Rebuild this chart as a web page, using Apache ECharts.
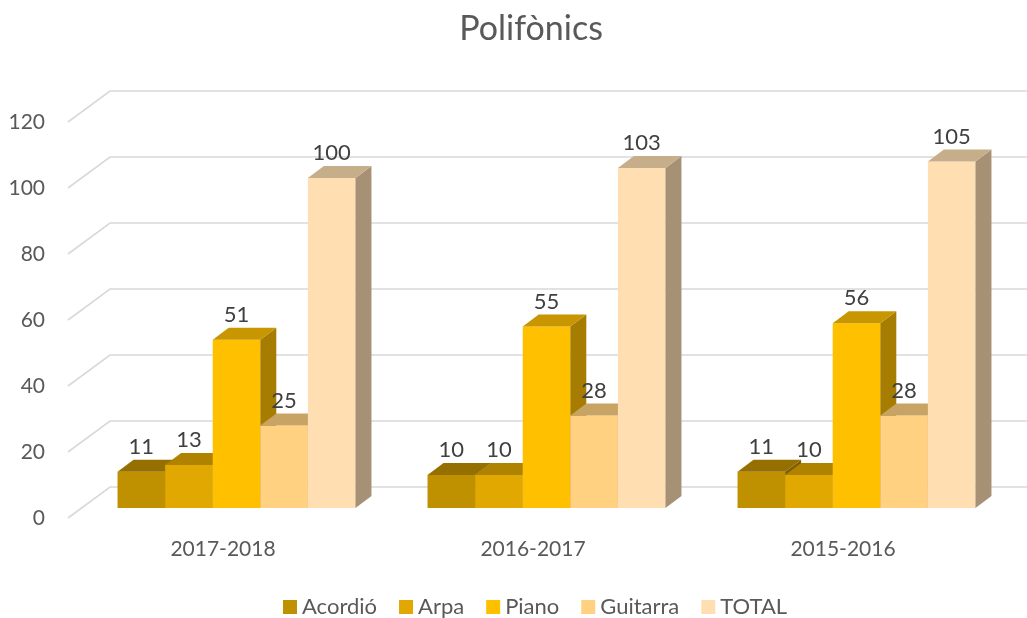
<!DOCTYPE html>
<html>
<head>
<meta charset="utf-8">
<script src="https://cdn.jsdelivr.net/npm/echarts@6/dist/echarts.min.js"></script>
<style>html,body{margin:0;padding:0;background:#fff}#c{width:1027px;height:618px}</style>
</head>
<body>
<div id="c"></div>
<script>
var categories = ['2017-2018', '2016-2017', '2015-2016'];
var acordio = [11, 10, 11];
var arpa = [13, 10, 10];
var piano = [51, 55, 56];
var guitarra = [25, 28, 28];
var total = [100, 103, 105];
var yTicks = [0, 20, 40, 60, 80, 100, 120];

var seriesNames = ['Acordió', 'Arpa', 'Piano', 'Guitarra', 'TOTAL'];
var seriesData = [acordio, arpa, piano, guitarra, total];
var colors = ['#BF9000', '#E0A800', '#FFC000', '#FFD180', '#FFDFB2'];

var FONT = 'Lato, "Open Sans", sans-serif';
var WALL_DX = 42, WALL_DY = -31;
var BAR_DX = 16, BAR_DY = -12;
var FLOOR_DX = 13.5, FLOOR_DY = -10;

function shade(hex, f) {
  var n = parseInt(hex.slice(1), 16);
  var r = Math.round(((n >> 16) & 255) * f), g = Math.round(((n >> 8) & 255) * f), b = Math.round((n & 255) * f);
  return 'rgb(' + r + ',' + g + ',' + b + ')';
}

var chart = echarts.init(document.getElementById('c'), null, {renderer: 'canvas'});

var series = [];
series.push({
  type: 'custom',
  name: '_grid',
  silent: true,
  z: 1,
  data: yTicks.map(function (v) { return [0, v]; }),
  renderItem: function (params, api) {
    var cs = params.coordSys;
    var p = api.coord([0, api.value(1)]);
    var x = cs.x, y = p[1];
    return {
      type: 'polyline',
      shape: {points: [[x, y], [x + WALL_DX, y + WALL_DY], [api.getWidth(), y + WALL_DY]]},
      style: {stroke: '#D9D9D9', lineWidth: 1.6, fill: null}
    };
  }
});

seriesData.forEach(function (arr, si) {
  var col = colors[si];
  series.push({
    type: 'custom',
    name: seriesNames[si],
    z: 2,
    itemStyle: {color: col},
    data: arr.map(function (v, i) { return [i, v]; }),
    renderItem: function (params, api) {
      var c = api.value(0), v = api.value(1);
      var base = api.coord([c, 0]);
      var topP = api.coord([c, v]);
      var bw = api.size([1, 0])[0];
      var barW = bw * 0.1535;
      var x0 = base[0] - 2.5 * barW + FLOOR_DX + si * barW;
      var yB = base[1] + FLOOR_DY;
      var yT = topP[1] + FLOOR_DY;
      var x1 = x0 + barW;
      return {
        type: 'group',
        children: [
          {type: 'rect', shape: {x: x0, y: yT, width: barW, height: yB - yT}, style: {fill: col}},
          {type: 'polygon', shape: {points: [[x1, yT], [x1 + BAR_DX, yT + BAR_DY], [x1 + BAR_DX, yB + BAR_DY], [x1, yB]]}, style: {fill: shade(col, 0.65)}},
          {type: 'polygon', shape: {points: [[x0, yT], [x1, yT], [x1 + BAR_DX, yT + BAR_DY], [x0 + BAR_DX, yT + BAR_DY]]}, style: {fill: shade(col, 0.78)}},
          {type: 'text', z2: 100, style: {text: String(v), x: x0 + barW / 2, y: yT + BAR_DY - 2, align: 'center', verticalAlign: 'bottom', fill: '#404040', font: '22px ' + FONT}}
        ]
      };
    }
  });
});

chart.setOption({
  animation: false,
  backgroundColor: '#ffffff',
  title: {
    text: 'Polifònics',
    left: 531,
    textAlign: 'center',
    top: 12,
    padding: 0,
    textStyle: {fontFamily: FONT, fontSize: 34, fontWeight: 'normal', color: '#595959'}
  },
  legend: {
    data: seriesNames,
    left: 283,
    top: 596,
    padding: 0,
    icon: 'rect',
    itemWidth: 14,
    itemHeight: 14,
    itemGap: 22,
    textStyle: {fontFamily: FONT, fontSize: 22, color: '#595959'}
  },
  grid: {left: 68, right: 29, top: 122, bottom: 100, containLabel: false},
  xAxis: {
    type: 'category',
    data: categories,
    axisLine: {show: false},
    axisTick: {show: false},
    axisLabel: {margin: 21, fontFamily: FONT, fontSize: 21, color: '#595959'},
    splitLine: {show: false}
  },
  yAxis: {
    type: 'value',
    min: 0,
    max: 120,
    interval: 20,
    axisLine: {show: false},
    axisTick: {show: false},
    splitLine: {show: false},
    axisLabel: {margin: 23, fontFamily: FONT, fontSize: 21, color: '#595959'}
  },
  series: series
});
</script>
</body>
</html>
